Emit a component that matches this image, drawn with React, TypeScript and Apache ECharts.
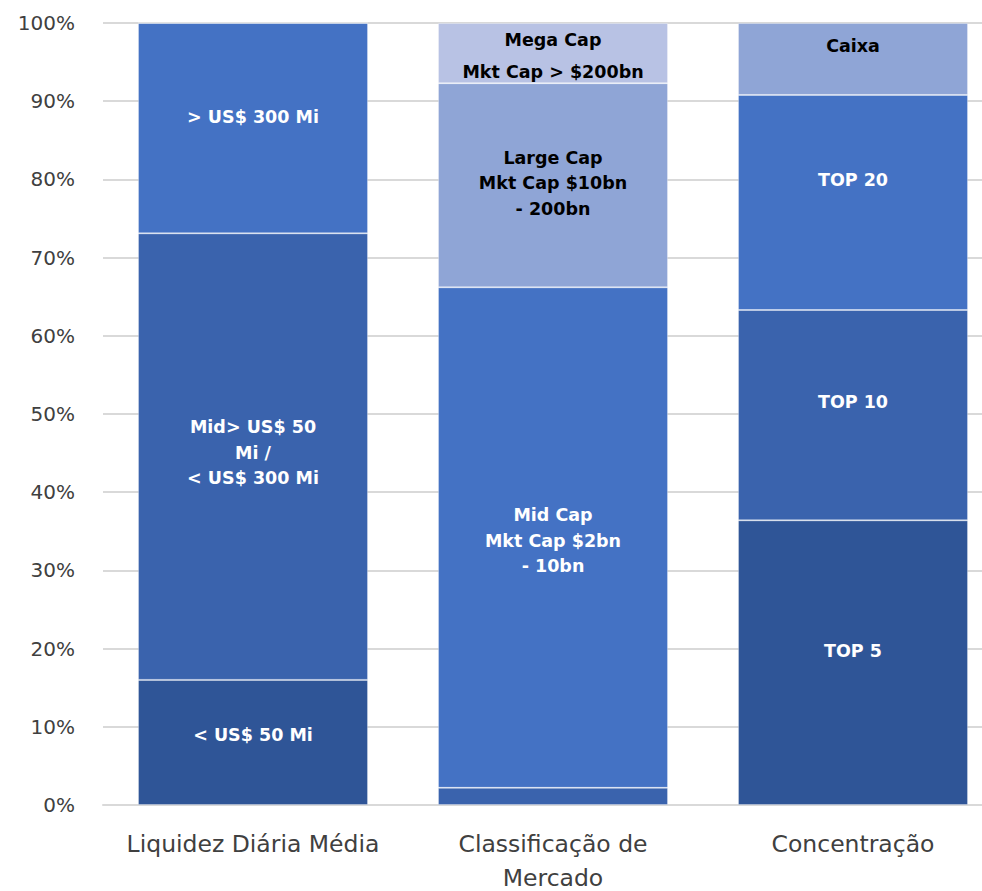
import React, { useEffect, useRef } from "react";
import * as echarts from "echarts";

const categories = ["Liquidez Diária Média", "Classificação de\nMercado", "Concentração"];
const yTicks = [0, 10, 20, 30, 40, 50, 60, 70, 80, 90, 100];

// stacked segment values (%), bottom to top
const layer1 = [16.0, 2.2, 36.4];
const layer2 = [57.1, 64.0, 26.9];
const layer3 = [26.9, 26.1, 27.5];
const layer4 = [0, 7.7, 9.2];

const labels1 = ["< US$ 50 Mi", "", "TOP 5"];
const labels2 = ["Mid> US$ 50\nMi /\n< US$ 300 Mi", "Mid Cap\nMkt Cap $2bn\n- 10bn", "TOP 10"];
const labels3 = ["> US$ 300 Mi", "Large Cap\nMkt Cap $10bn\n- 200bn", "TOP 20"];
const labels4 = ["", "Mega Cap\nMkt Cap > $200bn", "Caixa"];

const DARK = "#2F5597";
const MIDDARK = "#3A63AD";
const BLUE = "#4472C4";
const LIGHT = "#8FA5D6";
const PALE = "#B8C2E4";

const colors1 = [DARK, MIDDARK, DARK];
const colors2 = [MIDDARK, BLUE, MIDDARK];
const colors3 = [BLUE, LIGHT, BLUE];
const colors4 = [PALE, PALE, LIGHT];

const textColors1 = ["#fff", "#fff", "#fff"];
const textColors2 = ["#fff", "#fff", "#fff"];
const textColors3 = ["#fff", "#000", "#fff"];
const textColors4 = ["#000", "#000", "#000"];

const offsets1 = [-7, 0, -12];
const offsets2 = [-4, 3, -13];
const offsets3 = [-11, -2, -22];
const offsets4 = [0, 3, -13];
const lineHeights4 = [26, 32, 26];

function buildSeries(
  name: string,
  values: number[],
  colors: string[],
  labels: string[],
  textColors: string[],
  offsets: number[],
  lineHeights?: number[]
) {
  return {
    name,
    type: "bar",
    stack: "total",
    barWidth: 230,
    data: values.map((v, i) => ({
      value: v,
      itemStyle: { color: colors[i], borderColor: "rgba(255,255,255,0.3)", borderWidth: 1 },
      label: {
        show: labels[i] !== "",
        formatter: labels[i],
        position: "inside",
        offset: [0, offsets[i]],
        color: textColors[i],
        fontFamily: "DejaVu Sans",
        fontWeight: "bold",
        fontSize: 17.5,
        lineHeight: lineHeights ? lineHeights[i] : 25.5,
      },
    })),
  };
}

export default function App() {
  const ref = useRef<HTMLDivElement>(null);
  useEffect(() => {
    if (!ref.current) return;
    const chart = echarts.init(ref.current, undefined, { renderer: "svg" });
    chart.setOption({
      animation: false,
      backgroundColor: "#fff",
      grid: {
        left: 103,
        right: 0,
        top: 23,
        bottom: 86,
        containLabel: false,
        outerBoundsMode: "none",
      },
      xAxis: {
        type: "category",
        data: categories,
        axisLine: { show: true, lineStyle: { color: "#D9D9D9", width: 2 } },
        axisTick: { show: false },
        axisLabel: {
          color: "#404040",
          fontFamily: "DejaVu Sans",
          fontSize: 23.5,
          lineHeight: 34,
          margin: 22,
          interval: 0,
        },
      },
      yAxis: {
        type: "value",
        min: yTicks[0],
        max: yTicks[yTicks.length - 1],
        interval: 10,
        axisLine: { show: false },
        axisTick: { show: false },
        splitLine: { lineStyle: { color: "#D9D9D9", width: 2 } },
        axisLabel: {
          formatter: "{value}%",
          color: "#404040",
          fontFamily: "DejaVu Sans",
          fontSize: 20,
          margin: 28,
        },
      },
      series: [
        buildSeries("s1", layer1, colors1, labels1, textColors1, offsets1),
        buildSeries("s2", layer2, colors2, labels2, textColors2, offsets2),
        buildSeries("s3", layer3, colors3, labels3, textColors3, offsets3),
        buildSeries("s4", layer4, colors4, labels4, textColors4, offsets4, lineHeights4),
      ],
    });
    return () => chart.dispose();
  }, []);
  return (
    <div style={{ position: "fixed", left: 0, top: 0, width: 982, height: 891, overflow: "hidden" }}>
      <div ref={ref} style={{ position: "absolute", left: 0, top: 0, width: 1003, height: 891 }} />
    </div>
  );
}
